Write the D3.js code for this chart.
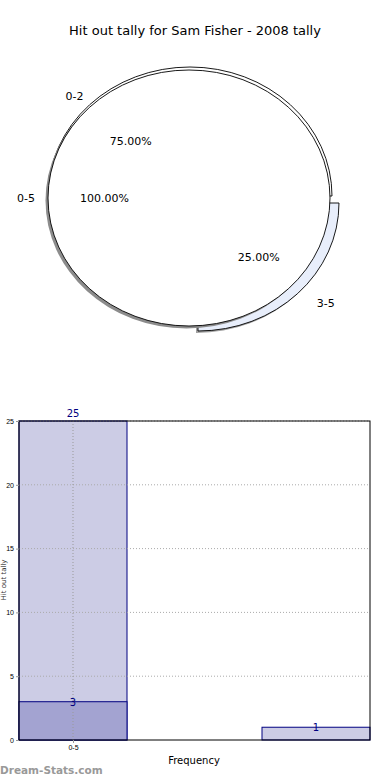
<!DOCTYPE html>
<html>
<head>
<meta charset="utf-8">
<script src="https://cdn.jsdelivr.net/npm/d3@7"></script>
<style>
  body { margin: 0; background: #fff; }
  svg { display: block; font-family: "DejaVu Sans", sans-serif; }
</style>
</head>
<body>
<svg width="390" height="780"></svg>
<script>
// ---- data ----
var title = 'Hit out tally for Sam Fisher - 2008 tally';
var outerCats = ['0-5'];
var outerVals = [100];
var innerCats = ['0-2', '3-5'];
var innerVals = [75, 25];
var innerExplode = [0, 1];

var barLabels = ['0-5'];
var barTickPos = [0];
var seriesTotal = [{ x: 0, v: 25 }];
var seriesPart = [{ x: 0, v: 3 }, { x: 2.25, v: 1 }];
var yTicks = [0, 5, 10, 15, 20, 25];

var svg = d3.select('svg');

svg.append('text')
  .attr('x', 195).attr('y', 35)
  .attr('text-anchor', 'middle')
  .style('font-size', '13px')
  .text(title);

//////////// PIE ////////////
var cx = 189, cy = 198, rx = 141, ry = 128;

// matplotlib-like: start at 3 o'clock, go counter clockwise
var pie = d3.pie().sort(null)
  .startAngle(Math.PI / 2)
  .endAngle(Math.PI / 2 - 2 * Math.PI);
var unitArc = d3.arc().innerRadius(0).outerRadius(1);

function pt(a, f, c) {
  // d3 angle -> ellipse point
  return [c[0] + f * c[2] * Math.sin(a), c[1] - f * c[3] * Math.cos(a)];
}

// inner pie (drawn first, mostly hidden)
var innerArcs = pie(innerVals);
var innerGeo = [[190, 196, 142, 129], [198, 203, 141, 128]];
var innerFill = ['#ffffff', '#e8eefb'];

innerArcs.forEach(function (d, i) {
  var g = innerGeo[i];
  svg.append('path')
    .attr('d', unitArc(d))
    .attr('transform', 'translate(' + (g[0] - 2) + ',' + (g[1] + 2) + ') scale(' + g[2] + ',' + g[3] + ')')
    .attr('fill', '#888').attr('opacity', innerExplode[i] ? 0.8 : 0);
  svg.append('path')
    .attr('d', unitArc(d))
    .attr('transform', 'translate(' + g[0] + ',' + g[1] + ') scale(' + g[2] + ',' + g[3] + ')')
    .attr('fill', innerFill[i])
    .attr('stroke', '#000')
    .attr('stroke-width', 0.9)
    .attr('vector-effect', 'non-scaling-stroke');
});

// outer full pie with shadow on top
svg.append('ellipse')
  .attr('cx', cx - 2.5).attr('cy', cy + 2.5)
  .attr('rx', rx).attr('ry', ry)
  .attr('fill', '#8c8c8c');
svg.append('ellipse')
  .attr('cx', cx).attr('cy', cy)
  .attr('rx', rx).attr('ry', ry)
  .attr('fill', '#fff')
  .attr('stroke', '#000')
  .attr('stroke-width', 0.9);

// labels
var outerArcs = pie(outerVals);
outerArcs.forEach(function (d, i) {
  var m = (d.startAngle + d.endAngle) / 2;
  var c = [cx, cy, rx, ry];
  var p = pt(m, 1.1, c);
  svg.append('text').attr('x', p[0] + 1).attr('y', p[1] + 4)
    .attr('text-anchor', p[0] < cx ? 'end' : 'start')
    .style('font-size', '11px').text(outerCats[i]);
  var q = pt(m, 0.6, c);
  svg.append('text').attr('x', q[0]).attr('y', q[1] + 4)
    .attr('text-anchor', 'middle')
    .style('font-size', '11px').text(d3.format('.2f')(outerVals[i] / d3.sum(outerVals) * 100) + '%');
});
innerArcs.forEach(function (d, i) {
  var m = (d.startAngle + d.endAngle) / 2;
  var p = pt(m, 1.1, innerGeo[i]);
  svg.append('text').attr('x', p[0] + (p[0] < cx ? 4 : 9)).attr('y', p[1] + 4)
    .attr('text-anchor', p[0] < cx ? 'end' : 'start')
    .style('font-size', '11px').text(innerCats[i]);
  var q = pt(m, 0.6, innerGeo[i]);
  svg.append('text').attr('x', q[0] + 1).attr('y', q[1] + 4)
    .attr('text-anchor', 'middle')
    .style('font-size', '11px').text(d3.format('.2f')(innerVals[i] / d3.sum(innerVals) * 100) + '%');
});

//////////// BARS ////////////
var plotL = 19, plotR = 370, plotT = 421, plotB = 740;
var x = d3.scaleLinear().domain([-0.5, 2.75]).range([plotL, plotR]);
var y = d3.scaleLinear().domain([0, 25]).range([plotB, plotT]);
var bw = x(1) - x(0);

svg.selectAll('rect.total').data(seriesTotal).enter().append('rect')
  .attr('class', 'total')
  .attr('x', function (d) { return x(d.x) - bw / 2; })
  .attr('y', function (d) { return y(d.v); })
  .attr('width', bw)
  .attr('height', function (d) { return plotB - y(d.v); })
  .attr('fill', '#cccce5')
  .attr('stroke', '#000080').attr('stroke-width', 1);

svg.selectAll('rect.part').data(seriesPart).enter().append('rect')
  .attr('class', 'part')
  .attr('x', function (d) { return x(d.x) - bw / 2; })
  .attr('y', function (d) { return y(d.v); })
  .attr('width', bw)
  .attr('height', function (d) { return plotB - y(d.v); })
  .attr('fill', function (d, i) { return i === 0 ? '#a3a3d1' : '#cccce5'; })
  .attr('stroke', '#000080').attr('stroke-width', 1);

// dotted grid on top of the bars
var grid = svg.append('g');
grid.selectAll('line.h').data(yTicks.slice(1)).enter().append('line')
  .attr('x1', plotL).attr('x2', plotR)
  .attr('y1', function (d) { return y(d); }).attr('y2', function (d) { return y(d); })
  .attr('stroke', '#aaa').attr('stroke-dasharray', '1,2');
grid.selectAll('line.v').data(barTickPos).enter().append('line')
  .attr('x1', function (d) { return x(d); }).attr('x2', function (d) { return x(d); })
  .attr('y1', plotT).attr('y2', plotB)
  .attr('stroke', '#999').attr('stroke-dasharray', '1,2');

// value labels
svg.selectAll('text.vt').data(seriesTotal.concat(seriesPart)).enter().append('text')
  .attr('class', 'vt')
  .attr('x', function (d) { return x(d.x); })
  .attr('y', function (d) { return y(d.v) - 4 + (d.v < 25 ? 8 : 0); })
  .attr('text-anchor', 'middle')
  .attr('fill', '#000080')
  .style('font-size', '10px')
  .text(function (d) { return d.v; });

// frame
svg.append('rect')
  .attr('x', plotL).attr('y', plotT)
  .attr('width', plotR - plotL).attr('height', plotB - plotT)
  .attr('fill', 'none').attr('stroke', '#000').attr('stroke-width', 1);

// axes
var yAxis = d3.axisLeft(y).tickValues(yTicks).tickSize(3).tickPadding(2);
var ya = svg.append('g').attr('transform', 'translate(' + plotL + ',0)').call(yAxis);
ya.select('.domain').remove();
ya.selectAll('line').attr('stroke', '#999');
ya.selectAll('text').style('font-size', '7px').attr('fill', '#000');

var xAxis = d3.axisBottom(x).tickValues(barTickPos)
  .tickFormat(function (d, i) { return barLabels[i]; }).tickSize(3).tickPadding(2);
var xa = svg.append('g').attr('transform', 'translate(0,' + plotB + ')').call(xAxis);
xa.select('.domain').remove();
xa.selectAll('line').attr('stroke', '#999');
xa.selectAll('text').style('font-size', '7px').attr('fill', '#000');

svg.append('text')
  .attr('x', 194).attr('y', 764)
  .attr('text-anchor', 'middle')
  .style('font-size', '10px')
  .text('Frequency');

svg.append('text')
  .attr('transform', 'translate(6,580) rotate(-90)')
  .attr('text-anchor', 'middle')
  .style('font-size', '7px')
  .attr('fill', '#333')
  .text('Hit out tally');

svg.append('text')
  .attr('x', 0).attr('y', 774)
  .attr('fill', '#999')
  .style('font-size', '10.5px')
  .style('font-weight', 'bold')
  .text('Dream-Stats.com');
</script>
</body>
</html>
